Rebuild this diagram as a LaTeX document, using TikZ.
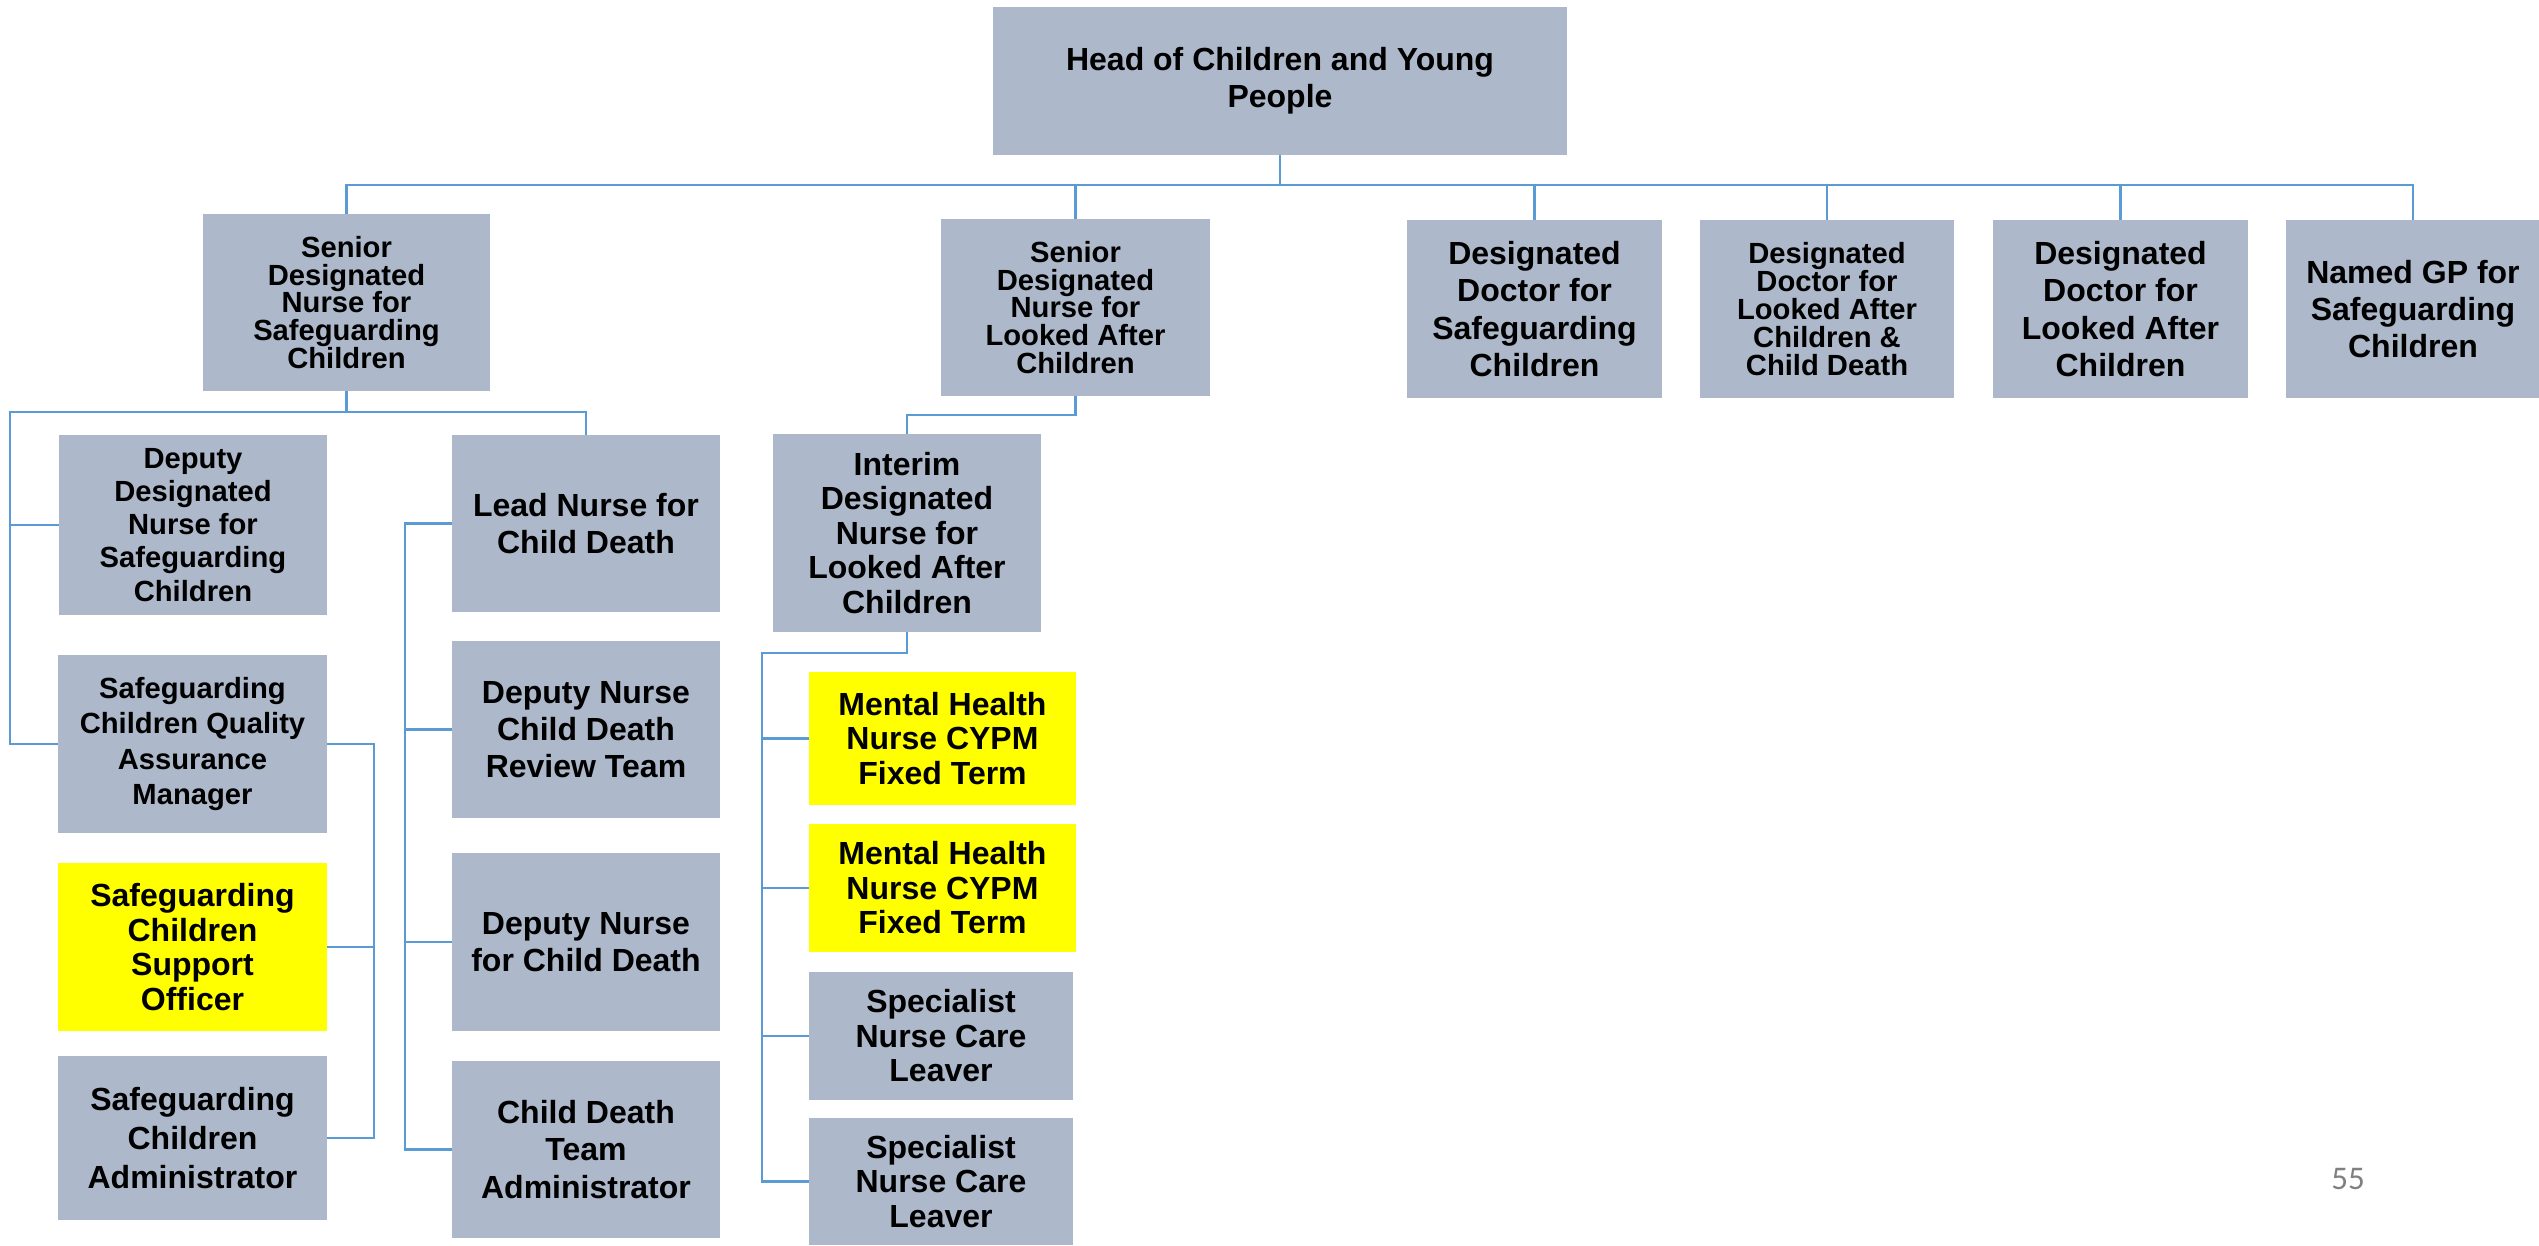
\documentclass[tikz,border=0pt]{standalone}
\usepackage{fontspec}
\setmainfont{Liberation Sans}
\newfontfamily\pagefont{Carlito}
\usepackage{tikz}
\usetikzlibrary{positioning}
\definecolor{boxgray}{RGB}{173,185,202}
\definecolor{hiyellow}{RGB}{255,255,0}
\definecolor{linkblue}{RGB}{91,155,213}

\begin{document}
\begin{tikzpicture}[x=0.01cm,y=-0.01cm,line cap=rect,line join=miter,
  box/.style={fill=boxgray,inner sep=0pt,align=center,font=\bfseries\fontsize{9.1}{10.6}\selectfont},
  snug/.style={font=\bfseries\fontsize{9.1}{9.8}\selectfont},
  tight/.style={font=\bfseries\fontsize{8.3}{7.9}\selectfont},
  midsz/.style={font=\bfseries\fontsize{8.3}{9.4}\selectfont},
  hilite/.style={fill=hiyellow},
  link/.style={draw=linkblue,line width=0.7pt}]
\useasboundingbox (0,0) rectangle (2539,1245);
% top level
\node[box,minimum width=5.74cm,minimum height=1.48cm] (head) at (1280,81) {Head of Children and Young\\People};
% second row
\node[box,tight,minimum width=2.87cm,minimum height=1.77cm] (sdnsg) at (346.5,302.5) {Senior\\Designated\\Nurse for\\Safeguarding\\Children};
\node[box,tight,minimum width=2.69cm,minimum height=1.77cm] (sdnlac) at (1075.5,307.5) {Senior\\Designated\\Nurse for\\Looked After\\Children};
\node[box,minimum width=2.55cm,minimum height=1.78cm] (ddsg) at (1534.5,309) {Designated\\Doctor for\\Safeguarding\\Children};
\node[box,tight,minimum width=2.54cm,minimum height=1.78cm] (ddlaccd) at (1827,309) {Designated\\Doctor for\\Looked After\\Children \&\\Child Death};
\node[box,minimum width=2.55cm,minimum height=1.78cm] (ddlac) at (2120.5,309) {Designated\\Doctor for\\Looked After\\Children};
\node[box,minimum width=2.54cm,minimum height=1.78cm] (gp) at (2413,309) {Named GP for\\Safeguarding\\Children};
% safeguarding team
\node[box,midsz,minimum width=2.68cm,minimum height=1.80cm] (dep) at (193,525) {Deputy\\Designated\\Nurse for\\Safeguarding\\Children};
\node[box,font=\bfseries\fontsize{8.3}{10}\selectfont,minimum width=2.69cm,minimum height=1.78cm] (scqam) at (192.5,744) {Safeguarding\\Children Quality\\Assurance\\Manager};
\node[box,snug,hilite,minimum width=2.69cm,minimum height=1.68cm] (sso) at (192.5,947) {Safeguarding\\Children\\Support\\Officer};
\node[box,font=\bfseries\fontsize{9.1}{11}\selectfont,minimum width=2.69cm,minimum height=1.64cm] (sca) at (192.5,1138) {Safeguarding\\Children\\Administrator};
% child death team
\node[box,minimum width=2.68cm,minimum height=1.77cm] (lead) at (586,523.5) {Lead Nurse for\\Child Death};
\node[box,minimum width=2.68cm,minimum height=1.77cm] (dncdrt) at (586,729.5) {Deputy Nurse\\Child Death\\Review Team};
\node[box,minimum width=2.68cm,minimum height=1.78cm] (dncd) at (586,942) {Deputy Nurse\\for Child Death};
\node[box,minimum width=2.68cm,minimum height=1.77cm] (cdta) at (586,1149.5) {Child Death\\Team\\Administrator};
% looked after children team
\node[box,snug,minimum width=2.68cm,minimum height=1.98cm] (interim) at (907,533) {Interim\\Designated\\Nurse for\\Looked After\\Children};
\node[box,snug,hilite,minimum width=2.67cm,minimum height=1.33cm] (mhone) at (942.5,738.5) {Mental Health\\Nurse CYPM\\Fixed Term};
\node[box,snug,hilite,minimum width=2.67cm,minimum height=1.28cm] (mhtwo) at (942.5,888) {Mental Health\\Nurse CYPM\\Fixed Term};
\node[box,snug,minimum width=2.64cm,minimum height=1.28cm] (sncone) at (941,1036) {Specialist\\Nurse Care\\Leaver};
\node[box,snug,minimum width=2.64cm,minimum height=1.27cm] (snctwo) at (941,1181.5) {Specialist\\Nurse Care\\Leaver};
% page number
\node[font=\pagefont\fontsize{9.4}{11}\selectfont,text=gray] (pgno) at (2348,1179) {55};
% rails
\coordinate (bus) at (0,185);
\coordinate (lrail) at (10,412);
\coordinate (crail) at (405,0);
\coordinate (qrail) at (374,0);
\coordinate (irail) at (762,653);
% head to second row
\draw[link] (head.south) -- (head.south |- bus);
\draw[link] (sdnsg.north |- bus) -- (gp.north |- bus);
\foreach \n in {sdnsg,sdnlac,ddsg,ddlaccd,ddlac,gp}
  \draw[link] (\n.north) -- (\n.north |- bus);
% senior nurse safeguarding
\draw[link] (sdnsg.south) -- (sdnsg.south |- lrail);
\draw[link] (lrail) -- (lead.north |- lrail) -- (lead.north);
\draw[link] (lrail) |- (scqam.west);
\draw[link] (lrail |- dep.west) -- (dep.west);
% quality manager
\draw[link] (scqam.east) -- (scqam.east -| qrail) |- (sca.east);
\draw[link] (sso.east -| qrail) -- (sso.east);
% lead nurse
\draw[link] (lead.west) -- (lead.west -| crail) |- (cdta.west);
\foreach \n in {dncdrt,dncd}
  \draw[link] (\n.west -| crail) -- (\n.west);
% senior nurse looked after
\draw[link] (sdnlac.south) -- ++(0,18) -| (interim.north);
\draw[link] (interim.south) |- (irail) |- (snctwo.west);
\foreach \n in {mhone,mhtwo,sncone}
  \draw[link] (\n.west -| irail) -- (\n.west);
\end{tikzpicture}
\end{document}
